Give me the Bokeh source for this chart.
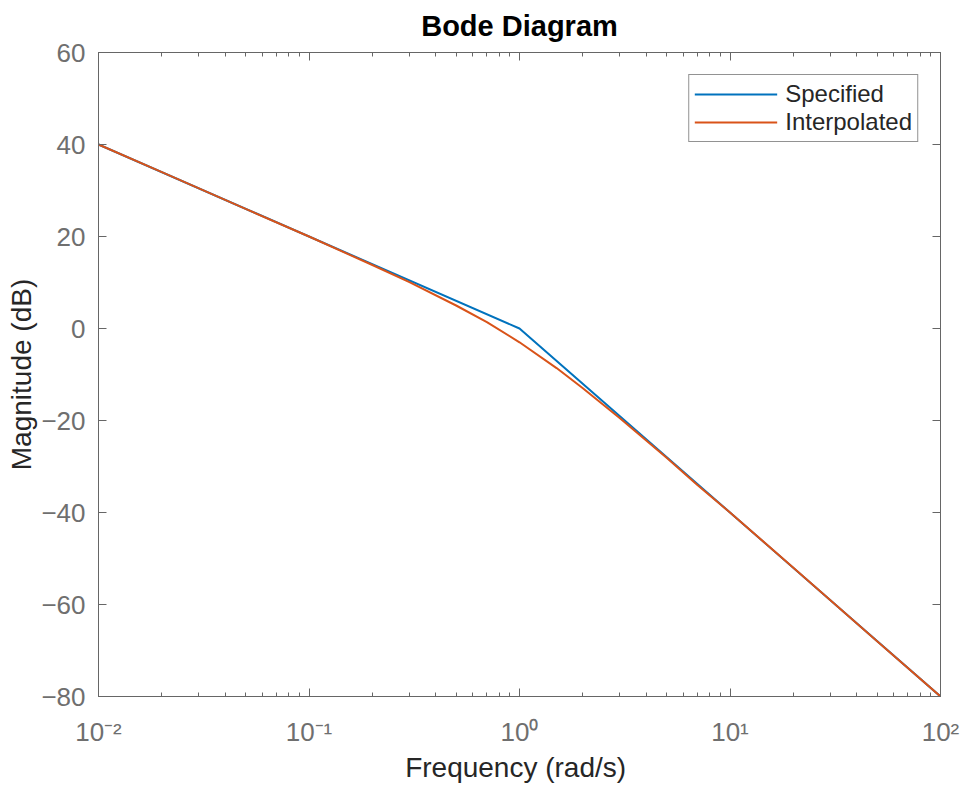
from bokeh.plotting import figure
from bokeh.models import (LinearAxis, LogAxis, FixedTicker, CustomJSTickFormatter,
                          Legend, LegendItem, Range1d)
from bokeh.embed import file_html
from bokeh.resources import INLINE

# ---- data ----
spec_freq = [0.01, 0.1, 1, 10, 100]
spec_mag = [40, 20, 0, -40, -80]

interp_freq = [0.01, 0.02, 0.05, 0.1, 0.2, 0.3, 0.5, 0.7, 1, 1.5, 2, 3, 5, 7, 10, 20, 50, 100]
interp_mag = [40.0, 34.0, 26.0, 20.0, 13.8, 10.1, 5.0, 1.4, -3.0, -8.6, -13.0, -19.5,
              -28.1, -34.0, -40.0, -52.0, -68.0, -80.0]

x_major = [0.01, 0.1, 1, 10, 100]
y_major = [-80, -60, -40, -20, 0, 20, 40, 60]
x_minor = [d * k for d in [0.01, 0.1, 1, 10] for k in range(2, 10)]

FONT = "Liberation Sans"
AX_COLOR = "#666666"
TICK_TXT = "#6f6f6f"
LBL_TXT = "#262626"

p = figure(width=964, height=785, x_axis_type="log",
           x_range=Range1d(0.01, 100), y_range=Range1d(-80, 60),
           output_backend="svg", toolbar_location=None,
           min_border_left=98, min_border_right=24, min_border_top=52, min_border_bottom=89,
           title="Bode Diagram")

p.title.text_font = FONT
p.title.text_font_size = "29px"
p.title.text_font_style = "bold"
p.title.text_color = "#000000"
p.title.align = "center"
p.title.standoff = 17
p.title.vertical_align = "top"
p.title.text_baseline = "top"

p.xgrid.visible = False
p.ygrid.visible = False
p.outline_line_color = AX_COLOR
p.outline_line_width = 1

blank = CustomJSTickFormatter(code='return "";')
sup = CustomJSTickFormatter(code="""
const m = {"-": "\u207b", "0": "\u2070", "1": "\u00b9", "2": "\u00b2", "3": "\u00b3",
           "4": "\u2074", "5": "\u2075", "6": "\u2076", "7": "\u2077", "8": "\u2078", "9": "\u2079"};
const e = Math.round(Math.log10(tick));
return "10" + String(e).split("").map(c => m[c]).join("");
""")


def style_axis(ax):
    ax.axis_line_color = AX_COLOR
    ax.major_tick_line_color = AX_COLOR
    ax.minor_tick_line_color = AX_COLOR
    ax.major_tick_in = 8
    ax.major_tick_out = 0
    ax.minor_tick_in = 4
    ax.minor_tick_out = 0
    ax.major_label_text_font = FONT
    ax.major_label_text_font_size = "26px"
    ax.major_label_text_color = TICK_TXT
    ax.axis_label_text_font = FONT
    ax.axis_label_text_font_size = "28px"
    ax.axis_label_text_font_style = "normal"
    ax.axis_label_text_color = LBL_TXT


xax = p.xaxis[0]
style_axis(xax)
xax.ticker = FixedTicker(ticks=x_major, minor_ticks=x_minor)
xax.formatter = sup
xax.axis_label = "Frequency  (rad/s)"
xax.major_label_standoff = 20
xax.axis_label_standoff = 2

yax = p.yaxis[0]
style_axis(yax)
yax.ticker = FixedTicker(ticks=y_major)
yax.minor_tick_line_color = None
yax.axis_label = "Magnitude (dB)"
yax.major_label_standoff = 13
yax.axis_label_standoff = 1

top = LogAxis()
style_axis(top)
top.ticker = FixedTicker(ticks=x_major, minor_ticks=x_minor)
top.formatter = blank
top.major_label_standoff = 0
p.add_layout(top, "above")

right = LinearAxis()
style_axis(right)
right.ticker = FixedTicker(ticks=y_major)
right.formatter = blank
right.major_label_standoff = 0
right.minor_tick_line_color = None
p.add_layout(right, "right")

r1 = p.line(spec_freq, spec_mag, line_color="#0072BD", line_width=2)
r2 = p.line(interp_freq, interp_mag, line_color="#D95319", line_width=2)

legend = Legend(items=[LegendItem(label="Specified", renderers=[r1]),
                       LegendItem(label="Interpolated", renderers=[r2])],
                location="top_right")
legend.margin = 22
legend.padding = 5
legend.spacing = 0
legend.glyph_width = 83
legend.glyph_height = 26
legend.label_height = 26
legend.label_standoff = 8
legend.label_text_font = FONT
legend.label_text_font_size = "24px"
legend.label_text_color = LBL_TXT
legend.border_line_color = "#262626"
legend.border_line_width = 1
legend.background_fill_color = "white"
legend.background_fill_alpha = 1
p.add_layout(legend)

open("out.html", "w").write(file_html(p, INLINE))
